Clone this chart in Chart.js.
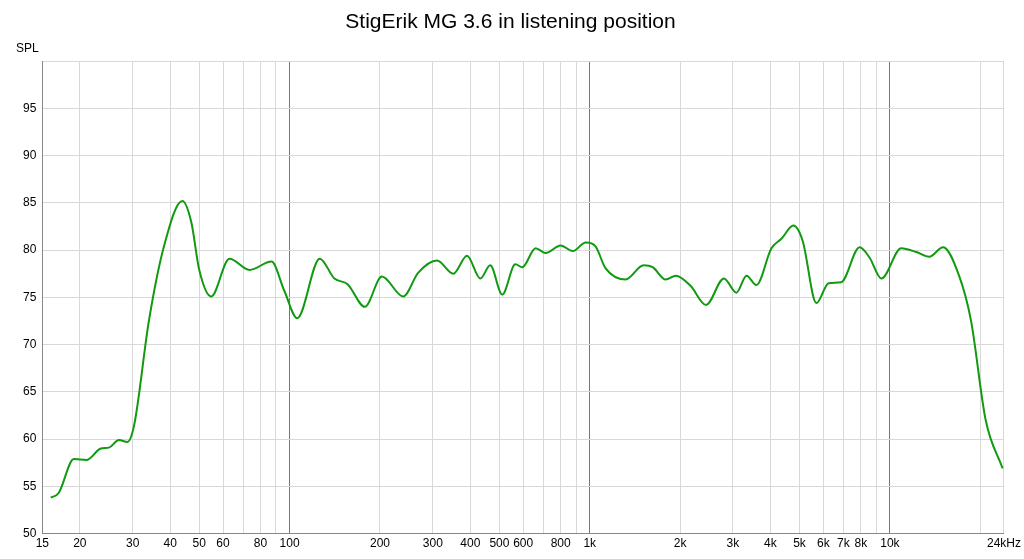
<!DOCTYPE html>
<html><head><meta charset="utf-8">
<script src="https://cdn.jsdelivr.net/npm/chart.js@4/dist/chart.umd.min.js"></script>
<style>body{margin:0;background:#fff}#wrap{position:relative;width:1024px;height:559px}</style>
</head><body><div id="wrap"><canvas id="c"></canvas></div>
<script>
// Frequency response
var freqs = [16,17,19.1,21.1,23.5,25,27,28.8,30.3,34,38.2,43.9,47,50,54.8,63,73.5,87,96,106,126,141,156,178,203,239,268,310,351,390,432,466,511,565,596,660,713,800,877,970,1045,1128,1316,1511,1620,1790,1935,2170,2440,2800,3080,3330,3590,4030,4350,4770,5120,5690,6250,6880,7930,8560,9370,10910,12250,13530,15040,17000,18620,20860,23750];
var spl = [53.8,54.3,57.9,57.8,59.0,59.1,59.9,59.7,61.4,72.6,80.5,85.2,83,77.9,75.1,79.1,77.9,78.8,75.7,72.8,79.1,77,76.4,74,77.2,75.1,77.6,78.9,77.5,79.4,77,78.4,75.3,78.5,78.2,80.2,79.7,80.5,79.9,80.8,80.4,78.1,76.9,78.4,78.2,76.9,77.3,76.2,74.2,77,75.5,77.3,76.3,80.2,81.2,82.6,81,74.4,76.5,76.6,80.3,79.2,77,80.2,79.8,79.3,80.3,77.3,72.6,62,56.9];
var xTicks = [15,20,30,40,50,60,80,100,200,300,400,500,600,800,1000,2000,3000,4000,5000,6000,7000,8000,10000,24000];
var yTicks = [50,55,60,65,70,75,80,85,90,95];

var gridX = [15];
[10,100,1000,10000].forEach(function(d){ for (var m = 1; m < 10; m++) { var v = d*m; if (v > 15 && v <= 24000) gridX.push(v); } });
gridX.push(24000);

function label(v) {
  if (v === 24000) return '24kHz';
  return v >= 1000 ? (v/1000) + 'k' : String(v);
}

new Chart(document.getElementById('c'), {
  type: 'line',
  data: {
    datasets: [{
      data: freqs.map(function(f, i){ return {x: f, y: spl[i]}; }),
      borderColor: '#109a10', borderWidth: 2, pointRadius: 0,
      cubicInterpolationMode: 'monotone'
    }]
  },
  options: {
    responsive: true, maintainAspectRatio: false, animation: false,
    layout: {padding: {left: 17, right: 20, top: 2, bottom: 5}},
    plugins: {
      legend: {display: false},
      title: {display: true, text: 'StigErik MG 3.6 in listening position', color: '#000',
        font: {family: 'Liberation Sans', size: 21, weight: 'normal'}, padding: {top: 8, bottom: 26}}
    },
    scales: {
      x: {
        type: 'logarithmic', min: 15, max: 24000,
        afterBuildTicks: function(ax){ ax.ticks = gridX.map(function(v){ return {value: v}; }); },
        ticks: {autoSkip: false, maxRotation: 0, color: '#000', font: {family: 'Liberation Sans', size: 12},
          callback: function(v){ return xTicks.indexOf(v) >= 0 ? label(v) : ''; }},
        grid: {color: function(c){ var v = c.tick.value; return (v===100||v===1000||v===10000) ? '#777' : '#d8d8d8'; }, drawTicks: false},
        border: {color: '#888'}
      },
      y: {
        min: 50, max: 100,
        afterBuildTicks: function(ax){ ax.ticks = yTicks.concat([100]).map(function(v){ return {value: v}; }); },
        ticks: {color: '#000', font: {family: 'Liberation Sans', size: 12}, padding: 6,
          callback: function(v){ return v === 100 ? '' : v; }},
        grid: {color: '#d8d8d8', drawTicks: false},
        border: {color: '#888'}
      }
    }
  },
  plugins: [{
    id: 'spl',
    afterDraw: function(chart){
      var ctx = chart.ctx;
      ctx.save(); ctx.fillStyle = '#000'; ctx.font = '12px Liberation Sans';
      ctx.fillText('SPL', 16, 52); ctx.restore();
    }
  }]
});
</script></body></html>
